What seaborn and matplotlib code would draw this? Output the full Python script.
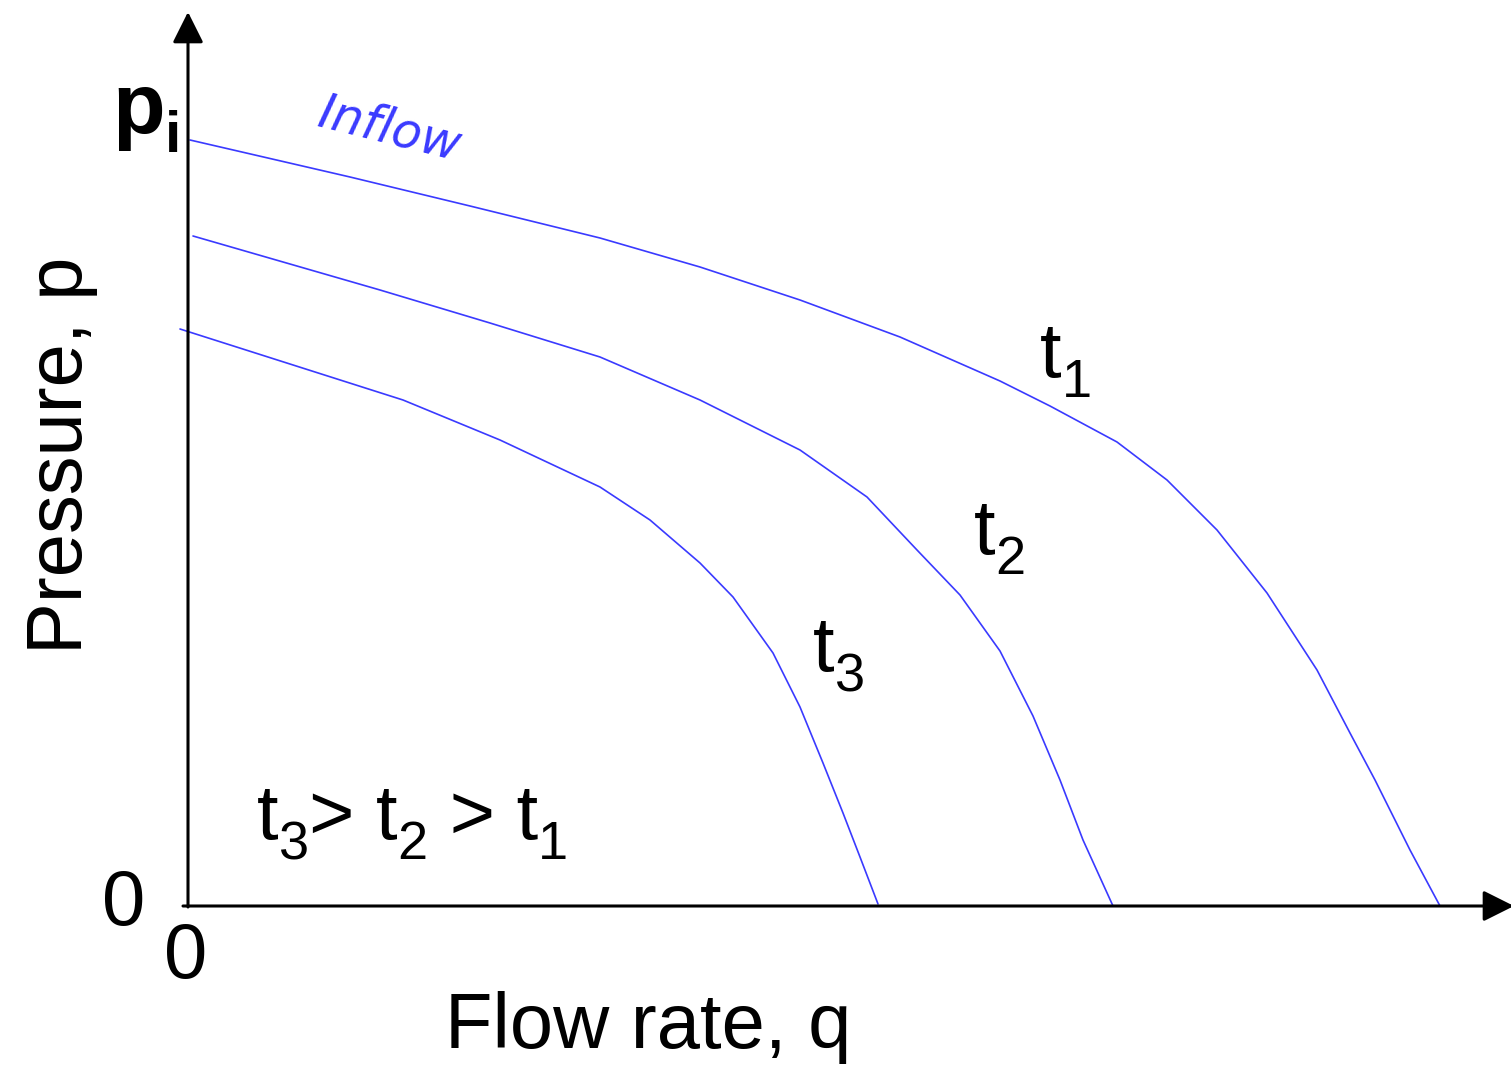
import pandas as pd
import matplotlib
matplotlib.use("Agg")
import matplotlib.pyplot as plt
import seaborn as sns

# curvas de inflow (q = vazao, p = pressao, unidades arbitrarias)
q_t1 = [0.02, 1.62, 2.82, 4.12, 5.12, 6.12, 7.12, 8.12, 8.62, 9.29, 9.79, 10.29,
        10.79, 11.29, 11.62, 11.87, 12.22, 12.52]
p_t1 = [7.66, 7.29, 7.00, 6.68, 6.39, 6.06, 5.69, 5.25, 5.00, 4.64, 4.26, 3.76,
        3.13, 2.36, 1.73, 1.26, 0.56, 0.00]

q_t2 = [0.05, 1.92, 3.02, 4.12, 5.12, 6.12, 6.79, 7.29, 7.72, 8.12, 8.45, 8.72, 8.95, 9.25]
p_t2 = [6.70, 6.16, 5.83, 5.49, 5.06, 4.56, 4.09, 3.56, 3.11, 2.55, 1.90, 1.26, 0.66, 0.00]

q_t3 = [-0.08, 2.15, 3.12, 4.12, 4.62, 5.12, 5.45, 5.85, 6.12, 6.35, 6.55, 6.72, 6.90]
p_t3 = [5.77, 5.06, 4.66, 4.19, 3.86, 3.43, 3.09, 2.53, 1.99, 1.43, 0.93, 0.49, 0.02]

curvas = {"t1": (q_t1, p_t1), "t2": (q_t2, p_t2), "t3": (q_t3, p_t3)}

sns.set_style("white")
plt.rcParams["font.family"] = ["Liberation Sans", "DejaVu Sans"]
plt.rcParams["text.color"] = "black"

azul = "#3a3aff"

fig = plt.figure(figsize=(15.11, 10.65), dpi=100)
ax = fig.add_axes([0, 0, 1, 1])

for nome, (q, p) in curvas.items():
    df = pd.DataFrame({"q": q, "p": p})
    sns.lineplot(data=df, x="q", y="p", sort=False, estimator=None,
                 color=azul, linewidth=1.2, ax=ax)

ax.set_xlim(-1.88, 13.23)
ax.set_ylim(-1.59, 9.06)
ax.axis("off")

# eixos com setas
seta = dict(arrowstyle="-|>,head_length=1.0,head_width=0.5", mutation_scale=19,
            color="black", lw=2.2, shrinkA=0, shrinkB=0)
ax.annotate("", xy=(0, 8.94), xytext=(0, -0.01), arrowprops=seta, annotation_clip=False)
ax.annotate("", xy=(13.26, 0), xytext=(-0.05, 0), arrowprops=seta, annotation_clip=False)


def escreve(x, y, partes, tam, tam_sub, desce, **kw):
    # texto com subscritos: cada parte encostada na anterior
    ant = None
    for txt, sub in partes:
        if ant is None:
            ant = ax.text(x, y, txt, fontsize=tam, ha="left", va="baseline", **kw)
        else:
            ant = ax.annotate(txt, xy=(1, y), xycoords=(ant, "data"),
                              xytext=(0, -desce if sub else 0), textcoords="offset points",
                              fontsize=tam_sub if sub else tam, ha="left", va="baseline",
                              annotation_clip=False, **kw)


tam = 56
escreve(-0.76, 7.73, [("p", False), ("i", True)], 62, 42, 13.5, fontweight="bold")
ax.text(2.02, 7.76, "Inflow", fontsize=35, color=azul, family="DejaVu Sans",
        style="italic", rotation=-14, ha="center", va="center")
ax.text(-1.265, 4.51, "Pressure, p", fontsize=tam, rotation=90, ha="center", va="center")
ax.text(2.57, -1.42, "Flow rate, q", fontsize=tam, ha="left", va="baseline")
ax.text(-0.64, -0.19, "0", fontsize=tam, ha="center", va="baseline")
ax.text(-0.02, -0.72, "0", fontsize=tam, ha="center", va="baseline")

escreve(8.52, 5.29, [("t", False), ("1", True)], tam, 39, 14.4)
escreve(7.86, 3.52, [("t", False), ("2", True)], tam, 39, 14.4)
escreve(6.25, 2.35, [("t", False), ("3", True)], tam, 39, 14.4)
escreve(0.69, 0.67, [("t", False), ("3", True), ("> t", False), ("2", True),
                     (" > t", False), ("1", True)], tam, 39, 14.4)

fig.savefig("out.png", dpi=100)
